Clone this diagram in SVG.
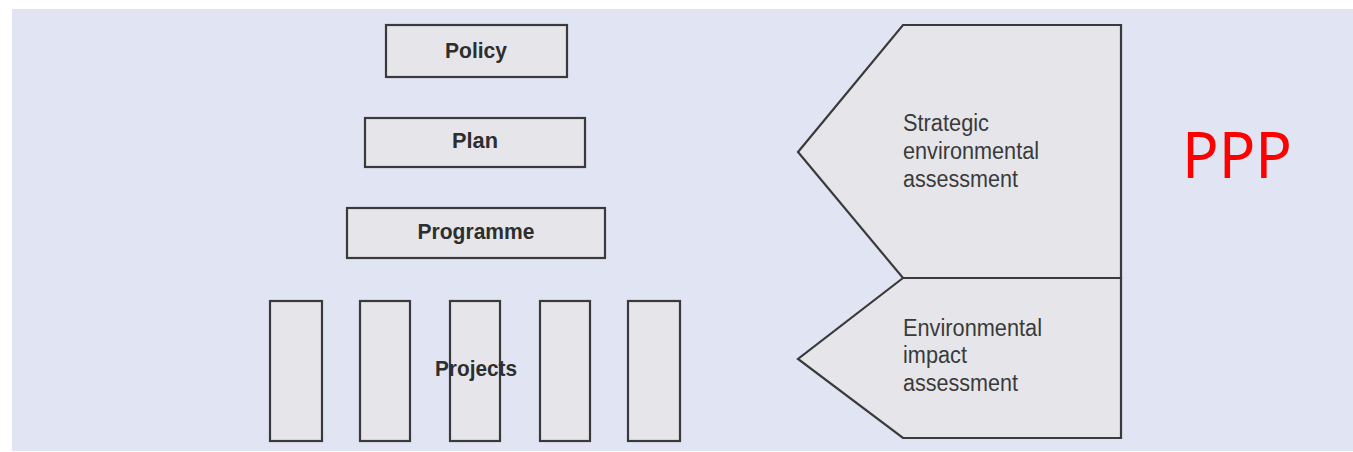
<svg xmlns="http://www.w3.org/2000/svg" width="1353" height="452" viewBox="0 0 1353 452">
  <style>
    .box { fill: #e6e6ea; stroke: #3a3a3a; stroke-width: 2.2; }
    .lbl { font-family: "Liberation Sans", Arial, sans-serif; font-weight: bold; font-size: 22px; fill: #2e2e2e; text-anchor: middle; }
    .txt { font-family: "Liberation Sans", Arial, sans-serif; font-size: 23px; fill: #3a3a3a; }
    .ppp { font-family: "Noto Sans", "Open Sans", sans-serif; font-size: 64px; fill: #ff0000; }
  </style>
  <rect x="0" y="0" width="1353" height="452" fill="#ffffff"/>
  <rect x="12" y="9" width="1341" height="442" fill="#e0e4f3"/>

  <g id="policy">
    <rect class="box" x="386" y="25" width="181" height="52"/>
    <text class="lbl" x="476" y="58" textLength="62" lengthAdjust="spacingAndGlyphs">Policy</text>
  </g>
  <g id="plan">
    <rect class="box" x="365" y="118" width="220" height="49"/>
    <text class="lbl" x="475" y="148" textLength="46" lengthAdjust="spacingAndGlyphs">Plan</text>
  </g>
  <g id="programme">
    <rect class="box" x="347" y="208" width="258" height="50"/>
    <text class="lbl" x="476" y="239" textLength="117" lengthAdjust="spacingAndGlyphs">Programme</text>
  </g>
  <g id="projects">
    <rect class="box" x="270" y="301" width="52" height="140"/>
    <rect class="box" x="360" y="301" width="50" height="140"/>
    <rect class="box" x="450" y="301" width="50" height="140"/>
    <rect class="box" x="540" y="301" width="50" height="140"/>
    <rect class="box" x="628" y="301" width="52" height="140"/>
    <text class="lbl" x="476" y="376" textLength="82" lengthAdjust="spacingAndGlyphs">Projects</text>
  </g>

  <g id="sea">
    <polygon class="box" points="903,25 1121,25 1121,278 903,278 798,152"/>
    <text class="txt" x="903" y="131" textLength="86" lengthAdjust="spacingAndGlyphs">Strategic</text>
    <text class="txt" x="903" y="159" textLength="136" lengthAdjust="spacingAndGlyphs">environmental</text>
    <text class="txt" x="903" y="187" textLength="115" lengthAdjust="spacingAndGlyphs">assessment</text>
  </g>
  <g id="eia">
    <polygon class="box" points="903,278 1121,278 1121,438 903,438 798,359"/>
    <text class="txt" x="903" y="336" textLength="139" lengthAdjust="spacingAndGlyphs">Environmental</text>
    <text class="txt" x="903" y="363" textLength="64" lengthAdjust="spacingAndGlyphs">impact</text>
    <text class="txt" x="903" y="391" textLength="115" lengthAdjust="spacingAndGlyphs">assessment</text>
  </g>

  <g id="ppp">
    <text class="ppp" x="1182" y="178" textLength="110" lengthAdjust="spacingAndGlyphs">PPP</text>
  </g>
</svg>
